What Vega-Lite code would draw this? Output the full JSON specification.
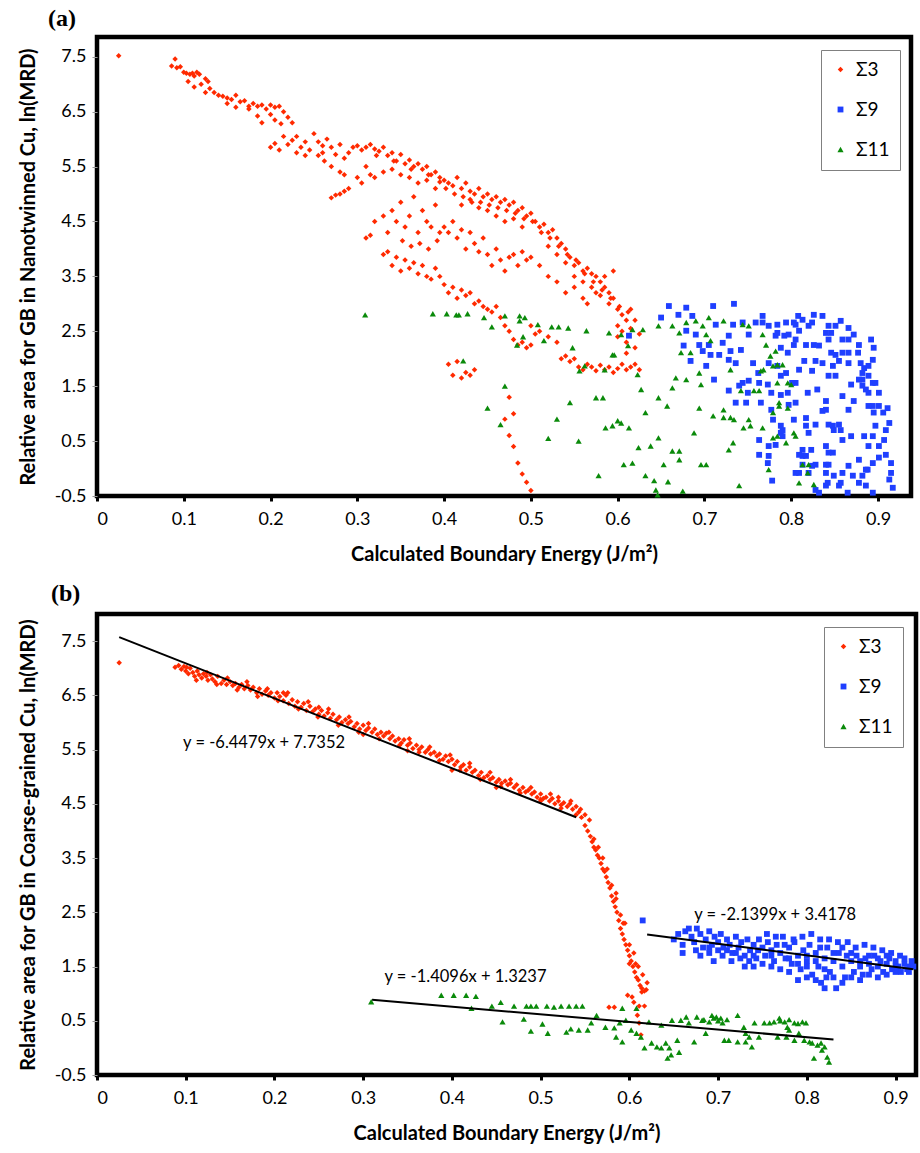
{
"$schema": "https://vega.github.io/schema/vega-lite/v6.json",
"padding": {"left": 15, "top": 4, "right": 2, "bottom": 2},
"spacing": 12,
"datasets": {
"a": [
{"e":0.025,"v":7.52,"s":"Σ3"},{"e":0.086,"v":7.33,"s":"Σ3"},{"e":0.09,"v":7.46,"s":"Σ3"},{"e":0.092,"v":7.3,"s":"Σ3"},{"e":0.096,"v":7.32,"s":"Σ3"},{"e":0.1,"v":7.22,"s":"Σ3"},{"e":0.103,"v":7.2,"s":"Σ3"},{"e":0.107,"v":7.18,"s":"Σ3"},{"e":0.11,"v":7.2,"s":"Σ3"},{"e":0.112,"v":7.15,"s":"Σ3"},{"e":0.115,"v":7.22,"s":"Σ3"},{"e":0.118,"v":7.18,"s":"Σ3"},{"e":0.105,"v":7.05,"s":"Σ3"},{"e":0.112,"v":6.95,"s":"Σ3"},{"e":0.12,"v":7.0,"s":"Σ3"},{"e":0.125,"v":7.1,"s":"Σ3"},{"e":0.128,"v":7.05,"s":"Σ3"},{"e":0.13,"v":6.92,"s":"Σ3"},{"e":0.125,"v":6.85,"s":"Σ3"},{"e":0.135,"v":6.85,"s":"Σ3"},{"e":0.14,"v":6.8,"s":"Σ3"},{"e":0.145,"v":6.78,"s":"Σ3"},{"e":0.15,"v":6.75,"s":"Σ3"},{"e":0.155,"v":6.72,"s":"Σ3"},{"e":0.16,"v":6.8,"s":"Σ3"},{"e":0.165,"v":6.68,"s":"Σ3"},{"e":0.17,"v":6.7,"s":"Σ3"},{"e":0.175,"v":6.6,"s":"Σ3"},{"e":0.18,"v":6.65,"s":"Σ3"},{"e":0.185,"v":6.6,"s":"Σ3"},{"e":0.19,"v":6.62,"s":"Σ3"},{"e":0.195,"v":6.55,"s":"Σ3"},{"e":0.2,"v":6.62,"s":"Σ3"},{"e":0.205,"v":6.58,"s":"Σ3"},{"e":0.21,"v":6.6,"s":"Σ3"},{"e":0.215,"v":6.5,"s":"Σ3"},{"e":0.2,"v":6.45,"s":"Σ3"},{"e":0.19,"v":6.3,"s":"Σ3"},{"e":0.185,"v":6.42,"s":"Σ3"},{"e":0.205,"v":6.35,"s":"Σ3"},{"e":0.212,"v":6.28,"s":"Σ3"},{"e":0.22,"v":6.4,"s":"Σ3"},{"e":0.225,"v":6.3,"s":"Σ3"},{"e":0.175,"v":6.55,"s":"Σ3"},{"e":0.15,"v":6.65,"s":"Σ3"},{"e":0.16,"v":6.58,"s":"Σ3"},
{"e":0.2,"v":5.85,"s":"Σ3"},{"e":0.205,"v":5.92,"s":"Σ3"},{"e":0.21,"v":5.8,"s":"Σ3"},{"e":0.215,"v":6.05,"s":"Σ3"},{"e":0.22,"v":5.9,"s":"Σ3"},{"e":0.225,"v":5.98,"s":"Σ3"},{"e":0.23,"v":6.05,"s":"Σ3"},{"e":0.235,"v":5.85,"s":"Σ3"},{"e":0.24,"v":5.95,"s":"Σ3"},{"e":0.245,"v":5.8,"s":"Σ3"},{"e":0.25,"v":6.1,"s":"Σ3"},{"e":0.255,"v":5.95,"s":"Σ3"},{"e":0.26,"v":5.88,"s":"Σ3"},{"e":0.265,"v":6.0,"s":"Σ3"},{"e":0.27,"v":5.85,"s":"Σ3"},{"e":0.275,"v":5.72,"s":"Σ3"},{"e":0.28,"v":5.9,"s":"Σ3"},{"e":0.285,"v":5.65,"s":"Σ3"},{"e":0.29,"v":5.75,"s":"Σ3"},{"e":0.295,"v":5.85,"s":"Σ3"},{"e":0.255,"v":5.7,"s":"Σ3"},{"e":0.262,"v":5.6,"s":"Σ3"},{"e":0.27,"v":5.5,"s":"Σ3"},{"e":0.28,"v":5.4,"s":"Σ3"},{"e":0.285,"v":5.35,"s":"Σ3"},{"e":0.26,"v":5.75,"s":"Σ3"},{"e":0.24,"v":5.7,"s":"Σ3"},{"e":0.23,"v":5.75,"s":"Σ3"},{"e":0.275,"v":4.98,"s":"Σ3"},{"e":0.28,"v":5.0,"s":"Σ3"},{"e":0.285,"v":5.05,"s":"Σ3"},{"e":0.29,"v":5.1,"s":"Σ3"},{"e":0.27,"v":4.93,"s":"Σ3"},
{"e":0.3,"v":5.88,"s":"Σ3"},{"e":0.305,"v":5.8,"s":"Σ3"},{"e":0.31,"v":5.85,"s":"Σ3"},{"e":0.315,"v":5.9,"s":"Σ3"},{"e":0.32,"v":5.82,"s":"Σ3"},{"e":0.325,"v":5.78,"s":"Σ3"},{"e":0.33,"v":5.85,"s":"Σ3"},{"e":0.335,"v":5.7,"s":"Σ3"},{"e":0.34,"v":5.75,"s":"Σ3"},{"e":0.345,"v":5.6,"s":"Σ3"},{"e":0.35,"v":5.72,"s":"Σ3"},{"e":0.355,"v":5.55,"s":"Σ3"},{"e":0.36,"v":5.62,"s":"Σ3"},{"e":0.365,"v":5.5,"s":"Σ3"},{"e":0.37,"v":5.55,"s":"Σ3"},{"e":0.375,"v":5.45,"s":"Σ3"},{"e":0.38,"v":5.5,"s":"Σ3"},{"e":0.385,"v":5.35,"s":"Σ3"},{"e":0.39,"v":5.4,"s":"Σ3"},{"e":0.395,"v":5.3,"s":"Σ3"},{"e":0.31,"v":5.5,"s":"Σ3"},{"e":0.315,"v":5.35,"s":"Σ3"},{"e":0.32,"v":5.3,"s":"Σ3"},{"e":0.33,"v":5.4,"s":"Σ3"},{"e":0.34,"v":5.45,"s":"Σ3"},{"e":0.35,"v":5.35,"s":"Σ3"},{"e":0.36,"v":5.3,"s":"Σ3"},{"e":0.37,"v":5.2,"s":"Σ3"},{"e":0.38,"v":5.25,"s":"Σ3"},{"e":0.39,"v":5.1,"s":"Σ3"},{"e":0.395,"v":5.22,"s":"Σ3"},{"e":0.3,"v":5.3,"s":"Σ3"},{"e":0.305,"v":5.2,"s":"Σ3"},{"e":0.322,"v":5.7,"s":"Σ3"},{"e":0.342,"v":5.6,"s":"Σ3"},{"e":0.362,"v":5.45,"s":"Σ3"},{"e":0.382,"v":5.35,"s":"Σ3"},
{"e":0.31,"v":4.2,"s":"Σ3"},{"e":0.315,"v":4.25,"s":"Σ3"},{"e":0.32,"v":4.5,"s":"Σ3"},{"e":0.33,"v":4.6,"s":"Σ3"},{"e":0.335,"v":4.3,"s":"Σ3"},{"e":0.34,"v":4.7,"s":"Σ3"},{"e":0.345,"v":4.5,"s":"Σ3"},{"e":0.35,"v":4.85,"s":"Σ3"},{"e":0.355,"v":4.4,"s":"Σ3"},{"e":0.36,"v":4.6,"s":"Σ3"},{"e":0.365,"v":4.95,"s":"Σ3"},{"e":0.37,"v":4.3,"s":"Σ3"},{"e":0.375,"v":4.7,"s":"Σ3"},{"e":0.38,"v":4.5,"s":"Σ3"},{"e":0.385,"v":4.4,"s":"Σ3"},{"e":0.39,"v":4.8,"s":"Σ3"},{"e":0.395,"v":4.3,"s":"Σ3"},{"e":0.352,"v":4.15,"s":"Σ3"},{"e":0.362,"v":4.05,"s":"Σ3"},{"e":0.372,"v":4.1,"s":"Σ3"},{"e":0.382,"v":4.0,"s":"Σ3"},{"e":0.392,"v":4.15,"s":"Σ3"},
{"e":0.33,"v":3.9,"s":"Σ3"},{"e":0.335,"v":3.95,"s":"Σ3"},{"e":0.34,"v":3.7,"s":"Σ3"},{"e":0.345,"v":3.85,"s":"Σ3"},{"e":0.35,"v":3.6,"s":"Σ3"},{"e":0.355,"v":3.8,"s":"Σ3"},{"e":0.36,"v":3.65,"s":"Σ3"},{"e":0.365,"v":3.75,"s":"Σ3"},{"e":0.37,"v":3.55,"s":"Σ3"},{"e":0.375,"v":3.7,"s":"Σ3"},{"e":0.38,"v":3.5,"s":"Σ3"},{"e":0.385,"v":3.45,"s":"Σ3"},{"e":0.39,"v":3.65,"s":"Σ3"},{"e":0.395,"v":3.5,"s":"Σ3"},
{"e":0.4,"v":5.25,"s":"Σ3"},{"e":0.405,"v":5.2,"s":"Σ3"},{"e":0.41,"v":5.15,"s":"Σ3"},{"e":0.415,"v":5.3,"s":"Σ3"},{"e":0.42,"v":5.1,"s":"Σ3"},{"e":0.425,"v":5.2,"s":"Σ3"},{"e":0.43,"v":5.05,"s":"Σ3"},{"e":0.435,"v":5.0,"s":"Σ3"},{"e":0.44,"v":5.1,"s":"Σ3"},{"e":0.445,"v":4.95,"s":"Σ3"},{"e":0.45,"v":5.0,"s":"Σ3"},{"e":0.455,"v":4.9,"s":"Σ3"},{"e":0.46,"v":4.95,"s":"Σ3"},{"e":0.465,"v":4.85,"s":"Σ3"},{"e":0.47,"v":4.9,"s":"Σ3"},{"e":0.475,"v":4.8,"s":"Σ3"},{"e":0.48,"v":4.85,"s":"Σ3"},{"e":0.485,"v":4.7,"s":"Σ3"},{"e":0.49,"v":4.75,"s":"Σ3"},{"e":0.495,"v":4.6,"s":"Σ3"},{"e":0.5,"v":4.65,"s":"Σ3"},{"e":0.42,"v":4.8,"s":"Σ3"},{"e":0.43,"v":4.9,"s":"Σ3"},{"e":0.44,"v":4.75,"s":"Σ3"},{"e":0.45,"v":4.7,"s":"Σ3"},{"e":0.46,"v":4.6,"s":"Σ3"},{"e":0.47,"v":4.5,"s":"Σ3"},{"e":0.48,"v":4.55,"s":"Σ3"},{"e":0.49,"v":4.4,"s":"Σ3"},{"e":0.402,"v":5.1,"s":"Σ3"},{"e":0.412,"v":5.0,"s":"Σ3"},{"e":0.422,"v":4.95,"s":"Σ3"},{"e":0.432,"v":4.85,"s":"Σ3"},{"e":0.442,"v":4.85,"s":"Σ3"},{"e":0.452,"v":4.8,"s":"Σ3"},{"e":0.462,"v":4.75,"s":"Σ3"},{"e":0.472,"v":4.7,"s":"Σ3"},{"e":0.482,"v":4.65,"s":"Σ3"},{"e":0.492,"v":4.55,"s":"Σ3"},{"e":0.502,"v":4.5,"s":"Σ3"},
{"e":0.4,"v":4.4,"s":"Σ3"},{"e":0.405,"v":4.3,"s":"Σ3"},{"e":0.41,"v":4.5,"s":"Σ3"},{"e":0.415,"v":4.2,"s":"Σ3"},{"e":0.42,"v":4.35,"s":"Σ3"},{"e":0.425,"v":4.0,"s":"Σ3"},{"e":0.43,"v":4.3,"s":"Σ3"},{"e":0.435,"v":4.1,"s":"Σ3"},{"e":0.44,"v":3.95,"s":"Σ3"},{"e":0.445,"v":4.2,"s":"Σ3"},{"e":0.45,"v":3.9,"s":"Σ3"},{"e":0.455,"v":3.7,"s":"Σ3"},{"e":0.46,"v":4.0,"s":"Σ3"},{"e":0.465,"v":3.8,"s":"Σ3"},{"e":0.47,"v":3.6,"s":"Σ3"},{"e":0.475,"v":3.85,"s":"Σ3"},{"e":0.48,"v":3.9,"s":"Σ3"},{"e":0.485,"v":3.7,"s":"Σ3"},{"e":0.49,"v":3.95,"s":"Σ3"},{"e":0.495,"v":3.8,"s":"Σ3"},{"e":0.5,"v":3.85,"s":"Σ3"},
{"e":0.4,"v":3.35,"s":"Σ3"},{"e":0.405,"v":3.2,"s":"Σ3"},{"e":0.41,"v":3.3,"s":"Σ3"},{"e":0.415,"v":3.1,"s":"Σ3"},{"e":0.42,"v":3.25,"s":"Σ3"},{"e":0.425,"v":3.15,"s":"Σ3"},{"e":0.43,"v":3.2,"s":"Σ3"},{"e":0.435,"v":3.0,"s":"Σ3"},{"e":0.44,"v":3.05,"s":"Σ3"},{"e":0.445,"v":2.95,"s":"Σ3"},{"e":0.45,"v":2.9,"s":"Σ3"},{"e":0.455,"v":2.85,"s":"Σ3"},{"e":0.46,"v":2.95,"s":"Σ3"},{"e":0.465,"v":2.75,"s":"Σ3"},{"e":0.47,"v":2.6,"s":"Σ3"},{"e":0.475,"v":2.5,"s":"Σ3"},{"e":0.48,"v":2.35,"s":"Σ3"},{"e":0.485,"v":2.25,"s":"Σ3"},{"e":0.49,"v":2.3,"s":"Σ3"},{"e":0.495,"v":2.2,"s":"Σ3"},{"e":0.5,"v":2.25,"s":"Σ3"},
{"e":0.405,"v":1.9,"s":"Σ3"},{"e":0.41,"v":1.7,"s":"Σ3"},{"e":0.415,"v":1.95,"s":"Σ3"},{"e":0.42,"v":1.65,"s":"Σ3"},{"e":0.425,"v":1.75,"s":"Σ3"},{"e":0.43,"v":1.7,"s":"Σ3"},{"e":0.435,"v":1.8,"s":"Σ3"},
{"e":0.47,"v":0.9,"s":"Σ3"},{"e":0.475,"v":0.6,"s":"Σ3"},{"e":0.48,"v":0.4,"s":"Σ3"},{"e":0.485,"v":0.1,"s":"Σ3"},{"e":0.49,"v":-0.1,"s":"Σ3"},{"e":0.495,"v":-0.25,"s":"Σ3"},{"e":0.5,"v":-0.4,"s":"Σ3"},{"e":0.475,"v":1.3,"s":"Σ3"},{"e":0.48,"v":1.0,"s":"Σ3"},
{"e":0.505,"v":4.5,"s":"Σ3"},{"e":0.51,"v":4.4,"s":"Σ3"},{"e":0.515,"v":4.45,"s":"Σ3"},{"e":0.52,"v":4.3,"s":"Σ3"},{"e":0.525,"v":4.35,"s":"Σ3"},{"e":0.53,"v":4.2,"s":"Σ3"},{"e":0.535,"v":4.1,"s":"Σ3"},{"e":0.54,"v":4.0,"s":"Σ3"},{"e":0.545,"v":3.85,"s":"Σ3"},{"e":0.55,"v":3.7,"s":"Σ3"},{"e":0.555,"v":3.75,"s":"Σ3"},{"e":0.56,"v":3.6,"s":"Σ3"},{"e":0.565,"v":3.65,"s":"Σ3"},{"e":0.57,"v":3.55,"s":"Σ3"},{"e":0.575,"v":3.5,"s":"Σ3"},{"e":0.58,"v":3.4,"s":"Σ3"},{"e":0.585,"v":3.3,"s":"Σ3"},{"e":0.59,"v":3.2,"s":"Σ3"},{"e":0.595,"v":3.1,"s":"Σ3"},{"e":0.6,"v":2.9,"s":"Σ3"},{"e":0.605,"v":2.8,"s":"Σ3"},{"e":0.61,"v":2.7,"s":"Σ3"},{"e":0.52,"v":4.05,"s":"Σ3"},{"e":0.53,"v":3.9,"s":"Σ3"},{"e":0.54,"v":3.75,"s":"Σ3"},{"e":0.55,"v":3.5,"s":"Σ3"},{"e":0.56,"v":3.4,"s":"Σ3"},{"e":0.57,"v":3.3,"s":"Σ3"},{"e":0.58,"v":3.15,"s":"Σ3"},{"e":0.59,"v":3.0,"s":"Σ3"},{"e":0.6,"v":2.6,"s":"Σ3"},{"e":0.51,"v":3.7,"s":"Σ3"},{"e":0.52,"v":3.5,"s":"Σ3"},{"e":0.53,"v":3.4,"s":"Σ3"},{"e":0.54,"v":3.2,"s":"Σ3"},{"e":0.55,"v":3.3,"s":"Σ3"},{"e":0.56,"v":3.1,"s":"Σ3"},{"e":0.565,"v":3.0,"s":"Σ3"},{"e":0.575,"v":3.2,"s":"Σ3"},{"e":0.585,"v":3.5,"s":"Σ3"},{"e":0.595,"v":3.6,"s":"Σ3"},{"e":0.512,"v":4.3,"s":"Σ3"},{"e":0.522,"v":4.2,"s":"Σ3"},{"e":0.532,"v":4.05,"s":"Σ3"},{"e":0.542,"v":3.9,"s":"Σ3"},{"e":0.552,"v":3.8,"s":"Σ3"},{"e":0.562,"v":3.55,"s":"Σ3"},{"e":0.572,"v":3.4,"s":"Σ3"},{"e":0.582,"v":3.25,"s":"Σ3"},{"e":0.592,"v":3.1,"s":"Σ3"},{"e":0.602,"v":2.95,"s":"Σ3"},{"e":0.612,"v":2.85,"s":"Σ3"},
{"e":0.51,"v":2.5,"s":"Σ3"},{"e":0.52,"v":2.4,"s":"Σ3"},{"e":0.53,"v":2.3,"s":"Σ3"},{"e":0.535,"v":2.0,"s":"Σ3"},{"e":0.54,"v":2.05,"s":"Σ3"},{"e":0.545,"v":1.95,"s":"Σ3"},{"e":0.55,"v":2.0,"s":"Σ3"},{"e":0.5,"v":2.6,"s":"Σ3"},{"e":0.505,"v":2.45,"s":"Σ3"},
{"e":0.555,"v":1.85,"s":"Σ3"},{"e":0.56,"v":1.8,"s":"Σ3"},{"e":0.565,"v":1.9,"s":"Σ3"},{"e":0.57,"v":1.85,"s":"Σ3"},{"e":0.575,"v":1.78,"s":"Σ3"},{"e":0.58,"v":1.88,"s":"Σ3"},{"e":0.585,"v":1.8,"s":"Σ3"},{"e":0.59,"v":1.85,"s":"Σ3"},{"e":0.595,"v":1.75,"s":"Σ3"},{"e":0.6,"v":1.82,"s":"Σ3"},{"e":0.605,"v":1.9,"s":"Σ3"},{"e":0.61,"v":1.8,"s":"Σ3"},{"e":0.615,"v":1.85,"s":"Σ3"},{"e":0.62,"v":1.9,"s":"Σ3"},{"e":0.625,"v":1.8,"s":"Σ3"},
{"e":0.6,"v":2.4,"s":"Σ3"},{"e":0.605,"v":2.5,"s":"Σ3"},{"e":0.61,"v":2.3,"s":"Σ3"},{"e":0.615,"v":2.55,"s":"Σ3"},{"e":0.62,"v":2.2,"s":"Σ3"},{"e":0.625,"v":2.45,"s":"Σ3"},{"e":0.615,"v":2.9,"s":"Σ3"},{"e":0.62,"v":2.7,"s":"Σ3"},{"e":0.61,"v":2.1,"s":"Σ3"},
{"e":0.613,"v":2.42,"s":"Σ9"},{"e":0.659,"v":2.96,"s":"Σ9"},{"e":0.65,"v":2.75,"s":"Σ9"},{"e":0.67,"v":2.8,"s":"Σ9"},{"e":0.679,"v":2.93,"s":"Σ9"},{"e":0.686,"v":2.78,"s":"Σ9"},{"e":0.71,"v":2.96,"s":"Σ9"},{"e":0.734,"v":3.0,"s":"Σ9"},{"e":0.679,"v":2.51,"s":"Σ9"},{"e":0.676,"v":2.24,"s":"Σ9"},{"e":0.684,"v":1.96,"s":"Σ9"},{"e":0.694,"v":2.25,"s":"Σ9"},{"e":0.698,"v":2.14,"s":"Σ9"},{"e":0.702,"v":1.87,"s":"Σ9"},{"e":0.711,"v":1.62,"s":"Σ9"},{"e":0.707,"v":2.07,"s":"Σ9"},{"e":0.713,"v":2.62,"s":"Σ9"},{"e":0.721,"v":2.29,"s":"Σ9"},{"e":0.728,"v":2.42,"s":"Σ9"},{"e":0.73,"v":2.14,"s":"Σ9"},{"e":0.733,"v":2.62,"s":"Σ9"},{"e":0.742,"v":2.16,"s":"Σ9"},{"e":0.744,"v":2.66,"s":"Σ9"},{"e":0.751,"v":2.44,"s":"Σ9"},{"e":0.759,"v":2.66,"s":"Σ9"},{"e":0.767,"v":2.78,"s":"Σ9"},{"e":0.756,"v":1.92,"s":"Σ9"},{"e":0.744,"v":1.56,"s":"Σ9"},{"e":0.728,"v":1.42,"s":"Σ9"},{"e":0.736,"v":1.2,"s":"Σ9"},{"e":0.748,"v":1.2,"s":"Σ9"},{"e":0.765,"v":1.2,"s":"Σ9"},{"e":0.773,"v":1.53,"s":"Σ9"},{"e":0.763,"v":1.56,"s":"Σ9"},{"e":0.774,"v":1.92,"s":"Σ9"},{"e":0.763,"v":0.52,"s":"Σ9"},{"e":0.763,"v":0.25,"s":"Σ9"},{"e":0.774,"v":0.41,"s":"Σ9"},{"e":0.782,"v":0.43,"s":"Σ9"},{"e":0.778,"v":-0.22,"s":"Σ9"},{"e":0.79,"v":0.7,"s":"Σ9"},{"e":0.788,"v":0.65,"s":"Σ9"},{"e":0.797,"v":1.16,"s":"Σ9"},{"e":0.805,"v":1.2,"s":"Σ9"},{"e":0.803,"v":0.89,"s":"Σ9"},{"e":0.817,"v":0.92,"s":"Σ9"},{"e":0.817,"v":0.78,"s":"Σ9"},{"e":0.813,"v":0.34,"s":"Σ9"},{"e":0.813,"v":0.23,"s":"Σ9"},{"e":0.809,"v":-0.08,"s":"Σ9"},{"e":0.828,"v":-0.39,"s":"Σ9"},{"e":0.832,"v":-0.44,"s":"Σ9"},{"e":0.84,"v":-0.31,"s":"Σ9"},{"e":0.84,"v":0.07,"s":"Σ9"},{"e":0.843,"v":0.29,"s":"Σ9"},{"e":0.848,"v":0.29,"s":"Σ9"},{"e":0.848,"v":0.78,"s":"Σ9"},{"e":0.843,"v":0.8,"s":"Σ9"},{"e":0.859,"v":0.52,"s":"Σ9"},{"e":0.857,"v":0.7,"s":"Σ9"},{"e":0.869,"v":0.59,"s":"Σ9"},{"e":0.859,"v":-0.08,"s":"Σ9"},{"e":0.871,"v":-0.13,"s":"Σ9"},{"e":0.855,"v":-0.31,"s":"Σ9"},{"e":0.865,"v":-0.44,"s":"Σ9"},{"e":0.878,"v":0.16,"s":"Σ9"},{"e":0.882,"v":-0.13,"s":"Σ9"},{"e":0.886,"v":-0.31,"s":"Σ9"},{"e":0.894,"v":-0.44,"s":"Σ9"},{"e":0.888,"v":-0.02,"s":"Σ9"},{"e":0.901,"v":0.2,"s":"Σ9"},{"e":0.909,"v":0.25,"s":"Σ9"},{"e":0.915,"v":0.1,"s":"Σ9"},{"e":0.915,"v":-0.08,"s":"Σ9"},{"e":0.913,"v":-0.2,"s":"Σ9"},{"e":0.917,"v":-0.35,"s":"Σ9"},{"e":0.901,"v":0.41,"s":"Σ9"},{"e":0.907,"v":0.52,"s":"Σ9"},{"e":0.909,"v":0.7,"s":"Σ9"},{"e":0.913,"v":0.83,"s":"Σ9"},{"e":0.906,"v":1.02,"s":"Σ9"},{"e":0.911,"v":1.1,"s":"Σ9"},{"e":0.901,"v":1.14,"s":"Σ9"},{"e":0.895,"v":1.02,"s":"Σ9"},{"e":0.894,"v":1.14,"s":"Σ9"},{"e":0.889,"v":1.14,"s":"Σ9"},{"e":0.901,"v":1.38,"s":"Σ9"},{"e":0.894,"v":1.56,"s":"Σ9"},{"e":0.897,"v":1.56,"s":"Σ9"},{"e":0.889,"v":1.69,"s":"Σ9"},{"e":0.882,"v":1.74,"s":"Σ9"},{"e":0.882,"v":1.62,"s":"Σ9"},{"e":0.882,"v":1.51,"s":"Σ9"},{"e":0.886,"v":1.44,"s":"Σ9"},{"e":0.889,"v":1.38,"s":"Σ9"},{"e":0.88,"v":1.92,"s":"Σ9"},{"e":0.884,"v":1.83,"s":"Σ9"},{"e":0.889,"v":1.87,"s":"Σ9"},{"e":0.894,"v":1.98,"s":"Σ9"},{"e":0.892,"v":2.35,"s":"Σ9"},{"e":0.895,"v":2.2,"s":"Σ9"},{"e":0.878,"v":2.25,"s":"Σ9"},{"e":0.877,"v":2.11,"s":"Σ9"},{"e":0.866,"v":2.11,"s":"Σ9"},{"e":0.859,"v":2.11,"s":"Σ9"},{"e":0.872,"v":2.44,"s":"Σ9"},{"e":0.866,"v":2.56,"s":"Σ9"},{"e":0.857,"v":2.69,"s":"Σ9"},{"e":0.851,"v":2.6,"s":"Σ9"},{"e":0.846,"v":2.47,"s":"Σ9"},{"e":0.84,"v":2.47,"s":"Σ9"},{"e":0.836,"v":2.78,"s":"Σ9"},{"e":0.826,"v":2.8,"s":"Σ9"},{"e":0.824,"v":2.66,"s":"Σ9"},{"e":0.82,"v":2.6,"s":"Σ9"},{"e":0.808,"v":2.78,"s":"Σ9"},{"e":0.803,"v":2.66,"s":"Σ9"},{"e":0.809,"v":2.51,"s":"Σ9"},{"e":0.805,"v":2.35,"s":"Σ9"},{"e":0.817,"v":2.25,"s":"Σ9"},{"e":0.826,"v":2.25,"s":"Σ9"},{"e":0.832,"v":2.24,"s":"Σ9"},{"e":0.846,"v":2.11,"s":"Σ9"},{"e":0.851,"v":2.07,"s":"Σ9"},{"e":0.855,"v":1.96,"s":"Σ9"},{"e":0.848,"v":1.87,"s":"Σ9"},{"e":0.836,"v":1.92,"s":"Σ9"},{"e":0.828,"v":1.96,"s":"Σ9"},{"e":0.815,"v":1.96,"s":"Σ9"},{"e":0.809,"v":1.8,"s":"Σ9"},{"e":0.824,"v":1.78,"s":"Σ9"},{"e":0.843,"v":1.69,"s":"Σ9"},{"e":0.851,"v":1.69,"s":"Σ9"},{"e":0.869,"v":1.53,"s":"Σ9"},{"e":0.872,"v":1.23,"s":"Σ9"},{"e":0.859,"v":1.32,"s":"Σ9"},{"e":0.84,"v":1.23,"s":"Σ9"},{"e":0.83,"v":1.44,"s":"Σ9"},{"e":0.819,"v":1.38,"s":"Σ9"},{"e":0.836,"v":1.05,"s":"Σ9"},{"e":0.84,"v":1.07,"s":"Σ9"},{"e":0.866,"v":1.07,"s":"Σ9"},{"e":0.855,"v":0.8,"s":"Σ9"},{"e":0.849,"v":0.7,"s":"Σ9"},{"e":0.828,"v":0.8,"s":"Σ9"},{"e":0.82,"v":0.65,"s":"Σ9"},{"e":0.84,"v":0.41,"s":"Σ9"},{"e":0.823,"v":0.34,"s":"Σ9"},{"e":0.817,"v":0.23,"s":"Σ9"},{"e":0.828,"v":0.07,"s":"Σ9"},{"e":0.84,"v":-0.08,"s":"Σ9"},{"e":0.849,"v":-0.13,"s":"Σ9"},{"e":0.843,"v":0.07,"s":"Σ9"},{"e":0.886,"v":-0.02,"s":"Σ9"},{"e":0.894,"v":0.1,"s":"Σ9"},{"e":0.894,"v":0.59,"s":"Σ9"},{"e":0.884,"v":0.59,"s":"Σ9"},{"e":0.889,"v":0.41,"s":"Σ9"},{"e":0.897,"v":0.78,"s":"Σ9"},{"e":0.782,"v":2.42,"s":"Σ9"},{"e":0.784,"v":2.62,"s":"Σ9"},{"e":0.792,"v":2.42,"s":"Σ9"},{"e":0.797,"v":2.44,"s":"Σ9"},{"e":0.788,"v":2.2,"s":"Σ9"},{"e":0.796,"v":2.11,"s":"Σ9"},{"e":0.803,"v":2.25,"s":"Σ9"},{"e":0.794,"v":1.74,"s":"Σ9"},{"e":0.788,"v":1.69,"s":"Σ9"},{"e":0.784,"v":1.87,"s":"Σ9"},{"e":0.801,"v":1.56,"s":"Σ9"},{"e":0.805,"v":1.56,"s":"Σ9"},{"e":0.796,"v":1.38,"s":"Σ9"},{"e":0.788,"v":1.34,"s":"Σ9"},{"e":0.777,"v":1.38,"s":"Σ9"},{"e":0.751,"v":1.6,"s":"Σ9"},{"e":0.762,"v":1.74,"s":"Σ9"},{"e":0.74,"v":1.51,"s":"Σ9"},{"e":0.75,"v":1.38,"s":"Σ9"},{"e":0.777,"v":1.07,"s":"Σ9"},{"e":0.779,"v":0.89,"s":"Σ9"},{"e":0.788,"v":0.78,"s":"Σ9"},{"e":0.79,"v":0.59,"s":"Σ9"},{"e":0.774,"v":0.23,"s":"Σ9"},{"e":0.773,"v":0.1,"s":"Σ9"},{"e":0.809,"v":0.25,"s":"Σ9"},{"e":0.813,"v":0.07,"s":"Σ9"},{"e":0.805,"v":-0.08,"s":"Σ9"},{"e":0.82,"v":-0.08,"s":"Σ9"},{"e":0.824,"v":0.05,"s":"Σ9"},{"e":0.857,"v":-0.26,"s":"Σ9"},{"e":0.842,"v":-0.26,"s":"Σ9"},{"e":0.878,"v":-0.26,"s":"Σ9"},{"e":0.866,"v":0.05,"s":"Σ9"},{"e":0.728,"v":1.98,"s":"Σ9"},{"e":0.736,"v":1.92,"s":"Σ9"},{"e":0.717,"v":2.07,"s":"Σ9"},{"e":0.705,"v":2.25,"s":"Σ9"},{"e":0.69,"v":2.44,"s":"Σ9"},{"e":0.767,"v":2.66,"s":"Σ9"},{"e":0.774,"v":2.6,"s":"Σ9"},{"e":0.784,"v":2.47,"s":"Σ9"},{"e":0.794,"v":2.66,"s":"Σ9"},{"e":0.805,"v":2.62,"s":"Σ9"},{"e":0.813,"v":2.71,"s":"Σ9"},{"e":0.843,"v":2.6,"s":"Σ9"},{"e":0.843,"v":2.35,"s":"Σ9"},{"e":0.859,"v":2.35,"s":"Σ9"},{"e":0.866,"v":2.35,"s":"Σ9"},{"e":0.866,"v":1.92,"s":"Σ9"},{"e":0.878,"v":1.62,"s":"Σ9"},
{"e":0.309,"v":2.8,"s":"Σ11"},{"e":0.387,"v":2.82,"s":"Σ11"},{"e":0.403,"v":2.82,"s":"Σ11"},{"e":0.414,"v":2.8,"s":"Σ11"},{"e":0.417,"v":2.8,"s":"Σ11"},{"e":0.427,"v":2.82,"s":"Σ11"},{"e":0.446,"v":2.75,"s":"Σ11"},{"e":0.455,"v":2.58,"s":"Σ11"},{"e":0.47,"v":2.78,"s":"Σ11"},{"e":0.487,"v":2.78,"s":"Σ11"},{"e":0.493,"v":2.75,"s":"Σ11"},{"e":0.487,"v":2.69,"s":"Σ11"},{"e":0.508,"v":2.62,"s":"Σ11"},{"e":0.524,"v":2.58,"s":"Σ11"},{"e":0.532,"v":2.58,"s":"Σ11"},{"e":0.543,"v":2.56,"s":"Σ11"},{"e":0.564,"v":2.51,"s":"Σ11"},{"e":0.59,"v":2.47,"s":"Σ11"},{"e":0.491,"v":2.4,"s":"Σ11"},{"e":0.484,"v":2.25,"s":"Σ11"},{"e":0.515,"v":2.33,"s":"Σ11"},{"e":0.548,"v":2.2,"s":"Σ11"},{"e":0.594,"v":2.07,"s":"Σ11"},{"e":0.422,"v":1.96,"s":"Σ11"},{"e":0.562,"v":1.87,"s":"Σ11"},{"e":0.556,"v":1.78,"s":"Σ11"},
{"e":0.604,"v":2.44,"s":"Σ11"},{"e":0.617,"v":2.53,"s":"Σ11"},{"e":0.629,"v":2.53,"s":"Σ11"},{"e":0.647,"v":2.6,"s":"Σ11"},{"e":0.663,"v":2.6,"s":"Σ11"},{"e":0.671,"v":2.47,"s":"Σ11"},{"e":0.679,"v":2.66,"s":"Σ11"},{"e":0.69,"v":2.69,"s":"Σ11"},{"e":0.698,"v":2.6,"s":"Σ11"},{"e":0.705,"v":2.75,"s":"Σ11"},{"e":0.702,"v":2.44,"s":"Σ11"},{"e":0.707,"v":2.33,"s":"Σ11"},{"e":0.722,"v":2.69,"s":"Σ11"},{"e":0.744,"v":2.62,"s":"Σ11"},{"e":0.751,"v":2.6,"s":"Σ11"},{"e":0.767,"v":2.44,"s":"Σ11"},{"e":0.771,"v":2.25,"s":"Σ11"},{"e":0.782,"v":2.14,"s":"Σ11"},{"e":0.776,"v":2.05,"s":"Σ11"},{"e":0.784,"v":1.89,"s":"Σ11"},{"e":0.779,"v":1.87,"s":"Σ11"},{"e":0.765,"v":1.78,"s":"Σ11"},{"e":0.768,"v":1.8,"s":"Σ11"},{"e":0.79,"v":1.89,"s":"Σ11"},{"e":0.786,"v":1.2,"s":"Σ11"},{"e":0.796,"v":1.56,"s":"Σ11"},{"e":0.8,"v":1.53,"s":"Σ11"},{"e":0.784,"v":1.56,"s":"Σ11"},{"e":0.673,"v":2.11,"s":"Σ11"},{"e":0.684,"v":2.11,"s":"Σ11"},{"e":0.73,"v":1.8,"s":"Σ11"},{"e":0.742,"v":1.42,"s":"Σ11"},{"e":0.757,"v":1.42,"s":"Σ11"},{"e":0.763,"v":1.42,"s":"Σ11"},{"e":0.786,"v":1.14,"s":"Σ11"},{"e":0.796,"v":1.1,"s":"Σ11"},{"e":0.779,"v":1.02,"s":"Σ11"},{"e":0.623,"v":1.71,"s":"Σ11"},{"e":0.667,"v":1.65,"s":"Σ11"},{"e":0.679,"v":1.62,"s":"Σ11"},{"e":0.694,"v":1.74,"s":"Σ11"},{"e":0.696,"v":1.53,"s":"Σ11"},{"e":0.663,"v":1.47,"s":"Σ11"},{"e":0.627,"v":1.44,"s":"Σ11"},{"e":0.596,"v":2.07,"s":"Σ11"},{"e":0.612,"v":2.24,"s":"Σ11"},{"e":0.647,"v":1.29,"s":"Σ11"},{"e":0.657,"v":1.14,"s":"Σ11"},{"e":0.632,"v":1.02,"s":"Σ11"},{"e":0.694,"v":1.1,"s":"Σ11"},{"e":0.71,"v":0.96,"s":"Σ11"},{"e":0.722,"v":1.07,"s":"Σ11"},{"e":0.722,"v":0.93,"s":"Σ11"},{"e":0.73,"v":0.93,"s":"Σ11"},{"e":0.734,"v":0.89,"s":"Σ11"},{"e":0.751,"v":0.89,"s":"Σ11"},{"e":0.753,"v":0.78,"s":"Σ11"},{"e":0.745,"v":0.74,"s":"Σ11"},{"e":0.767,"v":0.74,"s":"Σ11"},{"e":0.586,"v":0.74,"s":"Σ11"},{"e":0.594,"v":0.78,"s":"Σ11"},{"e":0.6,"v":0.87,"s":"Σ11"},{"e":0.604,"v":0.83,"s":"Σ11"},{"e":0.613,"v":0.74,"s":"Σ11"},{"e":0.647,"v":0.56,"s":"Σ11"},{"e":0.688,"v":0.65,"s":"Σ11"},{"e":0.624,"v":0.38,"s":"Σ11"},{"e":0.638,"v":0.41,"s":"Σ11"},{"e":0.663,"v":0.32,"s":"Σ11"},{"e":0.671,"v":0.32,"s":"Σ11"},{"e":0.671,"v":0.16,"s":"Σ11"},{"e":0.733,"v":0.47,"s":"Σ11"},{"e":0.728,"v":0.34,"s":"Σ11"},{"e":0.779,"v":0.56,"s":"Σ11"},{"e":0.784,"v":0.59,"s":"Σ11"},{"e":0.794,"v":0.47,"s":"Σ11"},{"e":0.803,"v":0.65,"s":"Σ11"},{"e":0.805,"v":0.59,"s":"Σ11"},{"e":0.607,"v":0.07,"s":"Σ11"},{"e":0.617,"v":0.1,"s":"Σ11"},{"e":0.653,"v":0.07,"s":"Σ11"},{"e":0.696,"v":0.07,"s":"Σ11"},{"e":0.702,"v":0.07,"s":"Σ11"},{"e":0.774,"v":-0.02,"s":"Σ11"},{"e":0.813,"v":0.07,"s":"Σ11"},{"e":0.82,"v":0.07,"s":"Σ11"},{"e":0.819,"v":-0.08,"s":"Σ11"},{"e":0.809,"v":-0.26,"s":"Σ11"},{"e":0.826,"v":-0.29,"s":"Σ11"},{"e":0.632,"v":-0.13,"s":"Σ11"},{"e":0.642,"v":-0.22,"s":"Σ11"},{"e":0.644,"v":-0.39,"s":"Σ11"},{"e":0.646,"v":-0.48,"s":"Σ11"},{"e":0.658,"v":-0.24,"s":"Σ11"},{"e":0.675,"v":-0.41,"s":"Σ11"},{"e":0.74,"v":-0.31,"s":"Σ11"},{"e":0.578,"v":-0.13,"s":"Σ11"},{"e":0.575,"v":1.29,"s":"Σ11"},{"e":0.583,"v":1.29,"s":"Σ11"},{"e":0.45,"v":1.1,"s":"Σ11"},{"e":0.465,"v":0.8,"s":"Σ11"},{"e":0.47,"v":1.5,"s":"Σ11"},{"e":0.53,"v":0.9,"s":"Σ11"},{"e":0.52,"v":0.55,"s":"Σ11"},{"e":0.555,"v":0.5,"s":"Σ11"},{"e":0.545,"v":1.2,"s":"Σ11"},{"e":0.585,"v":1.8,"s":"Σ11"}
],
"b": [
{"e":0.025,"v":7.1,"s":"Σ3"},{"e":0.088,"v":7.02,"s":"Σ3"},{"e":0.092,"v":7.05,"s":"Σ3"},{"e":0.095,"v":6.98,"s":"Σ3"},{"e":0.098,"v":7.03,"s":"Σ3"},{"e":0.1,"v":6.95,"s":"Σ3"},{"e":0.103,"v":6.9,"s":"Σ3"},{"e":0.105,"v":7.0,"s":"Σ3"},{"e":0.108,"v":6.92,"s":"Σ3"},{"e":0.11,"v":6.85,"s":"Σ3"},{"e":0.113,"v":6.95,"s":"Σ3"},{"e":0.115,"v":6.88,"s":"Σ3"},{"e":0.118,"v":6.82,"s":"Σ3"},{"e":0.12,"v":6.9,"s":"Σ3"},{"e":0.123,"v":6.85,"s":"Σ3"},{"e":0.125,"v":6.78,"s":"Σ3"},{"e":0.128,"v":6.88,"s":"Σ3"},{"e":0.13,"v":6.8,"s":"Σ3"},{"e":0.133,"v":6.75,"s":"Σ3"},{"e":0.136,"v":6.85,"s":"Σ3"},{"e":0.14,"v":6.72,"s":"Σ3"},{"e":0.143,"v":6.78,"s":"Σ3"},{"e":0.146,"v":6.7,"s":"Σ3"},{"e":0.15,"v":6.75,"s":"Σ3"},{"e":0.153,"v":6.68,"s":"Σ3"},{"e":0.156,"v":6.72,"s":"Σ3"},{"e":0.16,"v":6.65,"s":"Σ3"},{"e":0.163,"v":6.7,"s":"Σ3"},{"e":0.166,"v":6.62,"s":"Σ3"},{"e":0.17,"v":6.68,"s":"Σ3"},{"e":0.173,"v":6.6,"s":"Σ3"},{"e":0.176,"v":6.65,"s":"Σ3"},{"e":0.18,"v":6.55,"s":"Σ3"},{"e":0.183,"v":6.62,"s":"Σ3"},{"e":0.186,"v":6.52,"s":"Σ3"},{"e":0.19,"v":6.58,"s":"Σ3"},{"e":0.193,"v":6.5,"s":"Σ3"},{"e":0.196,"v":6.55,"s":"Σ3"},{"e":0.2,"v":6.45,"s":"Σ3"},{"e":0.203,"v":6.55,"s":"Σ3"},{"e":0.206,"v":6.48,"s":"Σ3"},{"e":0.21,"v":6.4,"s":"Σ3"},{"e":0.213,"v":6.5,"s":"Σ3"},{"e":0.216,"v":6.35,"s":"Σ3"},{"e":0.22,"v":6.42,"s":"Σ3"},{"e":0.223,"v":6.3,"s":"Σ3"},{"e":0.226,"v":6.38,"s":"Σ3"},{"e":0.23,"v":6.28,"s":"Σ3"},{"e":0.233,"v":6.35,"s":"Σ3"},{"e":0.236,"v":6.22,"s":"Σ3"},{"e":0.24,"v":6.3,"s":"Σ3"},{"e":0.243,"v":6.2,"s":"Σ3"},{"e":0.246,"v":6.25,"s":"Σ3"},{"e":0.25,"v":6.15,"s":"Σ3"},{"e":0.253,"v":6.22,"s":"Σ3"},{"e":0.256,"v":6.12,"s":"Σ3"},{"e":0.26,"v":6.18,"s":"Σ3"},{"e":0.263,"v":6.08,"s":"Σ3"},{"e":0.266,"v":6.15,"s":"Σ3"},{"e":0.27,"v":6.05,"s":"Σ3"},{"e":0.273,"v":6.1,"s":"Σ3"},{"e":0.276,"v":6.0,"s":"Σ3"},{"e":0.28,"v":6.05,"s":"Σ3"},{"e":0.283,"v":5.98,"s":"Σ3"},{"e":0.286,"v":6.02,"s":"Σ3"},{"e":0.29,"v":5.92,"s":"Σ3"},{"e":0.293,"v":5.98,"s":"Σ3"},{"e":0.296,"v":5.88,"s":"Σ3"},{"e":0.3,"v":5.95,"s":"Σ3"},{"e":0.303,"v":5.85,"s":"Σ3"},{"e":0.306,"v":5.9,"s":"Σ3"},{"e":0.31,"v":5.82,"s":"Σ3"},{"e":0.313,"v":5.88,"s":"Σ3"},{"e":0.316,"v":5.78,"s":"Σ3"},{"e":0.32,"v":5.82,"s":"Σ3"},{"e":0.323,"v":5.75,"s":"Σ3"},{"e":0.326,"v":5.8,"s":"Σ3"},{"e":0.33,"v":5.7,"s":"Σ3"},{"e":0.333,"v":5.75,"s":"Σ3"},{"e":0.336,"v":5.66,"s":"Σ3"},{"e":0.34,"v":5.7,"s":"Σ3"},{"e":0.343,"v":5.62,"s":"Σ3"},{"e":0.346,"v":5.68,"s":"Σ3"},{"e":0.35,"v":5.58,"s":"Σ3"},{"e":0.353,"v":5.62,"s":"Σ3"},{"e":0.356,"v":5.52,"s":"Σ3"},{"e":0.36,"v":5.58,"s":"Σ3"},{"e":0.363,"v":5.5,"s":"Σ3"},{"e":0.366,"v":5.55,"s":"Σ3"},{"e":0.37,"v":5.45,"s":"Σ3"},{"e":0.373,"v":5.5,"s":"Σ3"},{"e":0.376,"v":5.42,"s":"Σ3"},{"e":0.38,"v":5.45,"s":"Σ3"},{"e":0.383,"v":5.38,"s":"Σ3"},{"e":0.386,"v":5.42,"s":"Σ3"},{"e":0.39,"v":5.32,"s":"Σ3"},{"e":0.393,"v":5.38,"s":"Σ3"},{"e":0.396,"v":5.28,"s":"Σ3"},{"e":0.4,"v":5.32,"s":"Σ3"},{"e":0.403,"v":5.22,"s":"Σ3"},{"e":0.406,"v":5.28,"s":"Σ3"},{"e":0.41,"v":5.18,"s":"Σ3"},{"e":0.413,"v":5.22,"s":"Σ3"},{"e":0.416,"v":5.12,"s":"Σ3"},{"e":0.42,"v":5.18,"s":"Σ3"},{"e":0.423,"v":5.08,"s":"Σ3"},{"e":0.426,"v":5.12,"s":"Σ3"},{"e":0.43,"v":5.02,"s":"Σ3"},{"e":0.433,"v":5.08,"s":"Σ3"},{"e":0.436,"v":4.98,"s":"Σ3"},{"e":0.44,"v":5.02,"s":"Σ3"},{"e":0.443,"v":4.95,"s":"Σ3"},{"e":0.446,"v":4.98,"s":"Σ3"},{"e":0.45,"v":4.9,"s":"Σ3"},{"e":0.453,"v":4.95,"s":"Σ3"},{"e":0.456,"v":4.88,"s":"Σ3"},{"e":0.46,"v":4.92,"s":"Σ3"},{"e":0.463,"v":4.85,"s":"Σ3"},{"e":0.466,"v":4.88,"s":"Σ3"},{"e":0.47,"v":4.8,"s":"Σ3"},{"e":0.473,"v":4.85,"s":"Σ3"},{"e":0.476,"v":4.75,"s":"Σ3"},{"e":0.48,"v":4.8,"s":"Σ3"},{"e":0.483,"v":4.72,"s":"Σ3"},{"e":0.486,"v":4.75,"s":"Σ3"},{"e":0.49,"v":4.68,"s":"Σ3"},{"e":0.493,"v":4.72,"s":"Σ3"},{"e":0.496,"v":4.62,"s":"Σ3"},{"e":0.5,"v":4.68,"s":"Σ3"},{"e":0.503,"v":4.6,"s":"Σ3"},{"e":0.506,"v":4.62,"s":"Σ3"},{"e":0.51,"v":4.55,"s":"Σ3"},{"e":0.513,"v":4.6,"s":"Σ3"},{"e":0.516,"v":4.5,"s":"Σ3"},{"e":0.52,"v":4.55,"s":"Σ3"},{"e":0.523,"v":4.48,"s":"Σ3"},{"e":0.526,"v":4.52,"s":"Σ3"},{"e":0.53,"v":4.45,"s":"Σ3"},{"e":0.533,"v":4.5,"s":"Σ3"},{"e":0.536,"v":4.4,"s":"Σ3"},{"e":0.54,"v":4.45,"s":"Σ3"},{"e":0.543,"v":4.35,"s":"Σ3"},{"e":0.546,"v":4.25,"s":"Σ3"},{"e":0.55,"v":4.1,"s":"Σ3"},{"e":0.553,"v":4.0,"s":"Σ3"},{"e":0.556,"v":3.9,"s":"Σ3"},{"e":0.558,"v":3.8,"s":"Σ3"},{"e":0.56,"v":3.7,"s":"Σ3"},{"e":0.562,"v":3.65,"s":"Σ3"},{"e":0.564,"v":3.55,"s":"Σ3"},{"e":0.566,"v":3.5,"s":"Σ3"},{"e":0.568,"v":3.4,"s":"Σ3"},{"e":0.57,"v":3.3,"s":"Σ3"},{"e":0.572,"v":3.25,"s":"Σ3"},{"e":0.574,"v":3.15,"s":"Σ3"},{"e":0.576,"v":3.05,"s":"Σ3"},{"e":0.578,"v":2.95,"s":"Σ3"},{"e":0.58,"v":2.8,"s":"Σ3"},{"e":0.582,"v":2.7,"s":"Σ3"},{"e":0.584,"v":2.6,"s":"Σ3"},{"e":0.586,"v":2.5,"s":"Σ3"},{"e":0.588,"v":2.35,"s":"Σ3"},{"e":0.59,"v":2.2,"s":"Σ3"},{"e":0.592,"v":2.1,"s":"Σ3"},{"e":0.594,"v":2.0,"s":"Σ3"},{"e":0.596,"v":1.9,"s":"Σ3"},{"e":0.598,"v":1.8,"s":"Σ3"},{"e":0.6,"v":1.7,"s":"Σ3"},{"e":0.602,"v":1.6,"s":"Σ3"},{"e":0.604,"v":1.5,"s":"Σ3"},{"e":0.606,"v":1.4,"s":"Σ3"},{"e":0.608,"v":1.3,"s":"Σ3"},{"e":0.61,"v":1.25,"s":"Σ3"},{"e":0.612,"v":1.15,"s":"Σ3"},{"e":0.614,"v":1.1,"s":"Σ3"},{"e":0.617,"v":1.05,"s":"Σ3"},{"e":0.21,"v":6.55,"s":"Σ3"},{"e":0.25,"v":6.28,"s":"Σ3"},{"e":0.3,"v":5.78,"s":"Σ3"},{"e":0.35,"v":5.48,"s":"Σ3"},{"e":0.4,"v":5.12,"s":"Σ3"},{"e":0.45,"v":4.8,"s":"Σ3"},{"e":0.5,"v":4.55,"s":"Σ3"},{"e":0.52,"v":4.62,"s":"Σ3"},{"e":0.54,"v":4.3,"s":"Σ3"},{"e":0.56,"v":3.85,"s":"Σ3"},{"e":0.57,"v":3.5,"s":"Σ3"},{"e":0.58,"v":3.0,"s":"Σ3"},{"e":0.585,"v":2.85,"s":"Σ3"},{"e":0.59,"v":2.45,"s":"Σ3"},{"e":0.595,"v":2.3,"s":"Σ3"},{"e":0.6,"v":1.9,"s":"Σ3"},{"e":0.605,"v":1.75,"s":"Σ3"},{"e":0.61,"v":1.5,"s":"Σ3"},{"e":0.615,"v":1.35,"s":"Σ3"},{"e":0.62,"v":1.2,"s":"Σ3"},{"e":0.577,"v":0.75,"s":"Σ3"},{"e":0.583,"v":0.75,"s":"Σ3"},{"e":0.598,"v":0.97,"s":"Σ3"},{"e":0.603,"v":0.94,"s":"Σ3"},{"e":0.605,"v":0.84,"s":"Σ3"},{"e":0.611,"v":0.77,"s":"Σ3"},{"e":0.617,"v":0.77,"s":"Σ3"},{"e":0.609,"v":0.6,"s":"Σ3"},{"e":0.611,"v":0.46,"s":"Σ3"},{"e":0.613,"v":0.24,"s":"Σ3"},{"e":0.619,"v":1.07,"s":"Σ3"},{"e":0.614,"v":1.03,"s":"Σ3"},
{"e":0.101,"v":7.02,"s":"Σ3"},{"e":0.112,"v":6.78,"s":"Σ3"},{"e":0.124,"v":6.92,"s":"Σ3"},{"e":0.135,"v":6.7,"s":"Σ3"},{"e":0.147,"v":6.82,"s":"Σ3"},{"e":0.158,"v":6.6,"s":"Σ3"},{"e":0.169,"v":6.75,"s":"Σ3"},{"e":0.181,"v":6.48,"s":"Σ3"},{"e":0.192,"v":6.62,"s":"Σ3"},{"e":0.204,"v":6.4,"s":"Σ3"},{"e":0.215,"v":6.55,"s":"Σ3"},{"e":0.227,"v":6.25,"s":"Σ3"},{"e":0.238,"v":6.38,"s":"Σ3"},{"e":0.249,"v":6.1,"s":"Σ3"},{"e":0.261,"v":6.25,"s":"Σ3"},{"e":0.272,"v":5.95,"s":"Σ3"},{"e":0.284,"v":6.1,"s":"Σ3"},{"e":0.295,"v":5.82,"s":"Σ3"},{"e":0.306,"v":5.98,"s":"Σ3"},{"e":0.318,"v":5.7,"s":"Σ3"},{"e":0.329,"v":5.82,"s":"Σ3"},{"e":0.341,"v":5.58,"s":"Σ3"},{"e":0.352,"v":5.7,"s":"Σ3"},{"e":0.363,"v":5.45,"s":"Σ3"},{"e":0.375,"v":5.55,"s":"Σ3"},{"e":0.386,"v":5.3,"s":"Σ3"},{"e":0.398,"v":5.4,"s":"Σ3"},{"e":0.409,"v":5.12,"s":"Σ3"},{"e":0.42,"v":5.25,"s":"Σ3"},{"e":0.432,"v":4.95,"s":"Σ3"},{"e":0.443,"v":5.08,"s":"Σ3"},{"e":0.455,"v":4.82,"s":"Σ3"},{"e":0.466,"v":4.95,"s":"Σ3"},{"e":0.477,"v":4.7,"s":"Σ3"},{"e":0.489,"v":4.8,"s":"Σ3"},{"e":0.5,"v":4.58,"s":"Σ3"},{"e":0.511,"v":4.68,"s":"Σ3"},{"e":0.523,"v":4.42,"s":"Σ3"},{"e":0.534,"v":4.55,"s":"Σ3"},{"e":0.545,"v":4.4,"s":"Σ3"},{"e":0.55,"v":4.3,"s":"Σ3"},{"e":0.555,"v":4.2,"s":"Σ3"},{"e":0.565,"v":3.7,"s":"Σ3"},{"e":0.575,"v":3.3,"s":"Σ3"},{"e":0.585,"v":2.75,"s":"Σ3"},{"e":0.593,"v":2.3,"s":"Σ3"},{"e":0.6,"v":1.55,"s":"Σ3"},{"e":0.607,"v":1.55,"s":"Σ3"},
{"e":0.615,"v":2.35,"s":"Σ9"},{"e":0.65,"v":2.0,"s":"Σ9"},{"e":0.655,"v":2.1,"s":"Σ9"},{"e":0.66,"v":1.9,"s":"Σ9"},{"e":0.663,"v":2.15,"s":"Σ9"},{"e":0.667,"v":2.2,"s":"Σ9"},{"e":0.67,"v":2.05,"s":"Σ9"},{"e":0.673,"v":1.95,"s":"Σ9"},{"e":0.676,"v":2.2,"s":"Σ9"},{"e":0.68,"v":2.1,"s":"Σ9"},{"e":0.683,"v":1.85,"s":"Σ9"},{"e":0.686,"v":2.0,"s":"Σ9"},{"e":0.69,"v":2.15,"s":"Σ9"},{"e":0.693,"v":1.9,"s":"Σ9"},{"e":0.696,"v":2.05,"s":"Σ9"},{"e":0.7,"v":1.95,"s":"Σ9"},{"e":0.7,"v":1.8,"s":"Σ9"},{"e":0.69,"v":1.75,"s":"Σ9"},{"e":0.68,"v":1.7,"s":"Σ9"},{"e":0.703,"v":2.1,"s":"Σ9"},{"e":0.706,"v":1.85,"s":"Σ9"},{"e":0.71,"v":2.0,"s":"Σ9"},{"e":0.713,"v":1.9,"s":"Σ9"},{"e":0.716,"v":1.75,"s":"Σ9"},{"e":0.72,"v":2.05,"s":"Σ9"},{"e":0.723,"v":1.85,"s":"Σ9"},{"e":0.726,"v":1.95,"s":"Σ9"},{"e":0.73,"v":1.7,"s":"Σ9"},{"e":0.733,"v":2.0,"s":"Σ9"},{"e":0.736,"v":1.8,"s":"Σ9"},{"e":0.74,"v":1.9,"s":"Σ9"},{"e":0.743,"v":1.65,"s":"Σ9"},{"e":0.746,"v":2.0,"s":"Σ9"},{"e":0.75,"v":1.85,"s":"Σ9"},{"e":0.753,"v":1.7,"s":"Σ9"},{"e":0.756,"v":1.95,"s":"Σ9"},{"e":0.76,"v":1.8,"s":"Σ9"},{"e":0.763,"v":1.6,"s":"Σ9"},{"e":0.766,"v":1.9,"s":"Σ9"},{"e":0.77,"v":1.75,"s":"Σ9"},{"e":0.773,"v":2.05,"s":"Σ9"},{"e":0.776,"v":1.65,"s":"Σ9"},{"e":0.78,"v":1.85,"s":"Σ9"},{"e":0.783,"v":1.55,"s":"Σ9"},{"e":0.786,"v":1.95,"s":"Σ9"},{"e":0.79,"v":1.7,"s":"Σ9"},{"e":0.793,"v":1.45,"s":"Σ9"},{"e":0.796,"v":1.8,"s":"Σ9"},{"e":0.8,"v":1.6,"s":"Σ9"},{"e":0.803,"v":1.9,"s":"Σ9"},{"e":0.806,"v":1.35,"s":"Σ9"},{"e":0.81,"v":1.75,"s":"Σ9"},{"e":0.813,"v":1.5,"s":"Σ9"},{"e":0.816,"v":1.2,"s":"Σ9"},{"e":0.82,"v":1.65,"s":"Σ9"},{"e":0.823,"v":1.85,"s":"Σ9"},{"e":0.826,"v":1.4,"s":"Σ9"},{"e":0.83,"v":1.6,"s":"Σ9"},{"e":0.833,"v":1.1,"s":"Σ9"},{"e":0.836,"v":1.75,"s":"Σ9"},{"e":0.84,"v":1.5,"s":"Σ9"},{"e":0.843,"v":1.3,"s":"Σ9"},{"e":0.846,"v":1.95,"s":"Σ9"},{"e":0.85,"v":1.6,"s":"Σ9"},{"e":0.853,"v":1.4,"s":"Σ9"},{"e":0.856,"v":1.7,"s":"Σ9"},{"e":0.86,"v":1.5,"s":"Σ9"},{"e":0.863,"v":1.35,"s":"Σ9"},{"e":0.866,"v":1.65,"s":"Σ9"},{"e":0.87,"v":1.55,"s":"Σ9"},{"e":0.873,"v":1.45,"s":"Σ9"},{"e":0.876,"v":1.7,"s":"Σ9"},{"e":0.88,"v":1.5,"s":"Σ9"},{"e":0.883,"v":1.6,"s":"Σ9"},{"e":0.886,"v":1.4,"s":"Σ9"},{"e":0.89,"v":1.55,"s":"Σ9"},{"e":0.893,"v":1.65,"s":"Σ9"},{"e":0.896,"v":1.45,"s":"Σ9"},{"e":0.9,"v":1.6,"s":"Σ9"},{"e":0.903,"v":1.5,"s":"Σ9"},{"e":0.906,"v":1.4,"s":"Σ9"},{"e":0.91,"v":1.55,"s":"Σ9"},{"e":0.913,"v":1.45,"s":"Σ9"},{"e":0.916,"v":1.5,"s":"Σ9"},{"e":0.918,"v":1.6,"s":"Σ9"},{"e":0.905,"v":1.7,"s":"Σ9"},{"e":0.895,"v":1.75,"s":"Σ9"},{"e":0.885,"v":1.8,"s":"Σ9"},{"e":0.875,"v":1.85,"s":"Σ9"},{"e":0.865,"v":1.9,"s":"Σ9"},{"e":0.855,"v":1.85,"s":"Σ9"},{"e":0.845,"v":1.7,"s":"Σ9"},{"e":0.835,"v":1.95,"s":"Σ9"},{"e":0.825,"v":2.0,"s":"Σ9"},{"e":0.815,"v":2.0,"s":"Σ9"},{"e":0.805,"v":2.1,"s":"Σ9"},{"e":0.795,"v":2.05,"s":"Σ9"},{"e":0.785,"v":2.0,"s":"Σ9"},{"e":0.775,"v":1.9,"s":"Σ9"},{"e":0.765,"v":2.05,"s":"Σ9"},{"e":0.755,"v":2.1,"s":"Σ9"},{"e":0.745,"v":1.8,"s":"Σ9"},{"e":0.735,"v":1.6,"s":"Σ9"},{"e":0.725,"v":1.65,"s":"Σ9"},{"e":0.715,"v":1.6,"s":"Σ9"},{"e":0.705,"v":1.7,"s":"Σ9"},{"e":0.695,"v":1.6,"s":"Σ9"},{"e":0.8,"v":1.3,"s":"Σ9"},{"e":0.81,"v":1.25,"s":"Σ9"},{"e":0.82,"v":1.1,"s":"Σ9"},{"e":0.83,"v":1.3,"s":"Σ9"},{"e":0.84,"v":1.2,"s":"Σ9"},{"e":0.85,"v":1.3,"s":"Σ9"},{"e":0.86,"v":1.25,"s":"Σ9"},{"e":0.87,"v":1.35,"s":"Σ9"},{"e":0.88,"v":1.3,"s":"Σ9"},{"e":0.89,"v":1.35,"s":"Σ9"},{"e":0.9,"v":1.4,"s":"Σ9"},{"e":0.79,"v":1.25,"s":"Σ9"},{"e":0.78,"v":1.4,"s":"Σ9"},{"e":0.77,"v":1.45,"s":"Σ9"},{"e":0.76,"v":1.5,"s":"Σ9"},{"e":0.75,"v":1.55,"s":"Σ9"},{"e":0.74,"v":1.5,"s":"Σ9"},{"e":0.73,"v":1.5,"s":"Σ9"},{"e":0.8,"v":1.7,"s":"Σ9"},{"e":0.81,"v":1.6,"s":"Σ9"},{"e":0.82,"v":1.45,"s":"Σ9"},{"e":0.83,"v":1.75,"s":"Σ9"},{"e":0.84,"v":1.85,"s":"Σ9"},{"e":0.85,"v":1.75,"s":"Σ9"},{"e":0.86,"v":1.6,"s":"Σ9"},{"e":0.87,"v":1.7,"s":"Σ9"},{"e":0.88,"v":1.65,"s":"Σ9"},{"e":0.89,"v":1.7,"s":"Σ9"},{"e":0.9,"v":1.5,"s":"Σ9"},{"e":0.91,"v":1.65,"s":"Σ9"},{"e":0.915,"v":1.4,"s":"Σ9"},{"e":0.92,"v":1.5,"s":"Σ9"},{"e":0.66,"v":1.75,"s":"Σ9"},{"e":0.675,"v":1.8,"s":"Σ9"},{"e":0.69,"v":1.85,"s":"Σ9"},{"e":0.71,"v":1.8,"s":"Σ9"},{"e":0.72,"v":1.75,"s":"Σ9"},{"e":0.74,"v":1.7,"s":"Σ9"},{"e":0.76,"v":1.7,"s":"Σ9"},{"e":0.78,"v":1.65,"s":"Σ9"},{"e":0.79,"v":1.55,"s":"Σ9"},{"e":0.8,"v":1.5,"s":"Σ9"},{"e":0.815,"v":1.85,"s":"Σ9"},{"e":0.822,"v":1.3,"s":"Σ9"},
{"e":0.309,"v":0.85,"s":"Σ11"},{"e":0.388,"v":0.97,"s":"Σ11"},{"e":0.402,"v":0.97,"s":"Σ11"},{"e":0.416,"v":0.97,"s":"Σ11"},{"e":0.427,"v":0.95,"s":"Σ11"},{"e":0.422,"v":0.73,"s":"Σ11"},{"e":0.445,"v":0.77,"s":"Σ11"},{"e":0.455,"v":0.84,"s":"Σ11"},{"e":0.457,"v":0.48,"s":"Σ11"},{"e":0.47,"v":0.77,"s":"Σ11"},{"e":0.481,"v":0.53,"s":"Σ11"},{"e":0.484,"v":0.77,"s":"Σ11"},{"e":0.489,"v":0.77,"s":"Σ11"},{"e":0.495,"v":0.77,"s":"Σ11"},{"e":0.489,"v":0.31,"s":"Σ11"},{"e":0.502,"v":0.44,"s":"Σ11"},{"e":0.508,"v":0.27,"s":"Σ11"},{"e":0.507,"v":0.77,"s":"Σ11"},{"e":0.515,"v":0.75,"s":"Σ11"},{"e":0.523,"v":0.77,"s":"Σ11"},{"e":0.532,"v":0.77,"s":"Σ11"},{"e":0.54,"v":0.77,"s":"Σ11"},{"e":0.547,"v":0.77,"s":"Σ11"},{"e":0.529,"v":0.29,"s":"Σ11"},{"e":0.534,"v":0.35,"s":"Σ11"},{"e":0.543,"v":0.33,"s":"Σ11"},{"e":0.553,"v":0.33,"s":"Σ11"},{"e":0.557,"v":0.46,"s":"Σ11"},{"e":0.563,"v":0.6,"s":"Σ11"},{"e":0.573,"v":0.38,"s":"Σ11"},{"e":0.583,"v":0.37,"s":"Σ11"},{"e":0.585,"v":0.2,"s":"Σ11"},{"e":0.592,"v":0.11,"s":"Σ11"},{"e":0.589,"v":0.46,"s":"Σ11"},{"e":0.592,"v":0.73,"s":"Σ11"},{"e":0.596,"v":0.51,"s":"Σ11"},{"e":0.602,"v":0.33,"s":"Σ11"},{"e":0.608,"v":0.27,"s":"Σ11"},{"e":0.613,"v":0.2,"s":"Σ11"},{"e":0.608,"v":0.73,"s":"Σ11"},{"e":0.617,"v":0.0,"s":"Σ11"},{"e":0.625,"v":0.09,"s":"Σ11"},{"e":0.622,"v":0.48,"s":"Σ11"},{"e":0.631,"v":0.02,"s":"Σ11"},{"e":0.636,"v":0.0,"s":"Σ11"},{"e":0.641,"v":0.09,"s":"Σ11"},{"e":0.645,"v":0.0,"s":"Σ11"},{"e":0.643,"v":-0.19,"s":"Σ11"},{"e":0.647,"v":-0.13,"s":"Σ11"},{"e":0.656,"v":-0.08,"s":"Σ11"},{"e":0.654,"v":0.14,"s":"Σ11"},{"e":0.648,"v":0.51,"s":"Σ11"},{"e":0.636,"v":0.42,"s":"Σ11"},{"e":0.658,"v":0.51,"s":"Σ11"},{"e":0.664,"v":0.57,"s":"Σ11"},{"e":0.667,"v":0.46,"s":"Σ11"},{"e":0.673,"v":0.11,"s":"Σ11"},{"e":0.676,"v":0.57,"s":"Σ11"},{"e":0.682,"v":0.51,"s":"Σ11"},{"e":0.686,"v":0.27,"s":"Σ11"},{"e":0.69,"v":0.48,"s":"Σ11"},{"e":0.693,"v":0.6,"s":"Σ11"},{"e":0.698,"v":0.57,"s":"Σ11"},{"e":0.703,"v":0.55,"s":"Σ11"},{"e":0.705,"v":0.46,"s":"Σ11"},{"e":0.707,"v":0.14,"s":"Σ11"},{"e":0.712,"v":0.14,"s":"Σ11"},{"e":0.722,"v":0.6,"s":"Σ11"},{"e":0.722,"v":0.11,"s":"Σ11"},{"e":0.729,"v":0.38,"s":"Σ11"},{"e":0.731,"v":0.11,"s":"Σ11"},{"e":0.731,"v":0.27,"s":"Σ11"},{"e":0.735,"v":0.2,"s":"Σ11"},{"e":0.738,"v":0.02,"s":"Σ11"},{"e":0.741,"v":0.46,"s":"Σ11"},{"e":0.746,"v":0.2,"s":"Σ11"},{"e":0.752,"v":0.46,"s":"Σ11"},{"e":0.758,"v":0.46,"s":"Σ11"},{"e":0.763,"v":0.48,"s":"Σ11"},{"e":0.767,"v":0.2,"s":"Σ11"},{"e":0.769,"v":0.55,"s":"Σ11"},{"e":0.775,"v":0.48,"s":"Σ11"},{"e":0.777,"v":0.2,"s":"Σ11"},{"e":0.778,"v":0.38,"s":"Σ11"},{"e":0.78,"v":0.33,"s":"Σ11"},{"e":0.786,"v":0.46,"s":"Σ11"},{"e":0.786,"v":0.14,"s":"Σ11"},{"e":0.791,"v":0.27,"s":"Σ11"},{"e":0.795,"v":0.48,"s":"Σ11"},{"e":0.797,"v":0.14,"s":"Σ11"},{"e":0.799,"v":0.46,"s":"Σ11"},{"e":0.803,"v":0.11,"s":"Σ11"},{"e":0.806,"v":0.09,"s":"Σ11"},{"e":0.812,"v":0.05,"s":"Σ11"},{"e":0.816,"v":0.09,"s":"Σ11"},{"e":0.817,"v":-0.04,"s":"Σ11"},{"e":0.808,"v":-0.19,"s":"Σ11"},{"e":0.823,"v":-0.17,"s":"Σ11"},{"e":0.825,"v":-0.26,"s":"Σ11"},{"e":0.82,"v":0.02,"s":"Σ11"},{"e":0.684,"v":0.52,"s":"Σ11"},{"e":0.695,"v":0.55,"s":"Σ11"},{"e":0.7,"v":0.5,"s":"Σ11"},{"e":0.71,"v":0.52,"s":"Σ11"},{"e":0.77,"v":0.5,"s":"Σ11"},{"e":0.78,"v":0.52,"s":"Σ11"},{"e":0.79,"v":0.45,"s":"Σ11"}
],
"lines": [
{"e":0.025,"v":7.574,"g":"r"},{"e":0.54,"v":4.253,"g":"r"},
{"e":0.62,"v":2.091,"g":"b"},{"e":0.92,"v":1.449,"g":"b"},
{"e":0.31,"v":0.887,"g":"g"},{"e":0.83,"v":0.154,"g":"g"}
],
"eqs": [
{"e":0.097,"v":5.62,"t":"y = -6.4479x + 7.7352"},
{"e":0.673,"v":2.45,"t":"y = -2.1399x + 3.4178"},
{"e":0.324,"v":1.3,"t":"y = -1.4096x + 1.3237"}
]
},
"vconcat": [
{
"width": 814, "height": 459,
"title": {"text": "(a)", "anchor": "start", "frame": "group", "dx": -49, "offset": 6, "font": "Liberation Serif", "fontSize": 24, "fontWeight": "bold", "color": "black"},
"data": {"name": "a"},
"mark": {"type": "point", "filled": true, "opacity": 1},
"encoding": {
"x": {"field": "e", "type": "quantitative", "title": "Calculated Boundary Energy (J/m²)", "scale": {"domain": [0, 0.938], "nice": false, "zero": false}, "axis": {"values": [0,0.1,0.2,0.3,0.4,0.5,0.6,0.7,0.8,0.9], "format": ".1~f", "tickColor": "black", "tickWidth": 3, "tickSize": 5, "labelPadding": 9, "titlePadding": 16}},
"y": {"field": "v", "type": "quantitative", "title": "Relative area for GB in Nanotwinned Cu, ln(MRD)", "scale": {"domain": [-0.5, 7.86], "nice": false, "zero": false}, "axis": {"values": [-0.5,0.5,1.5,2.5,3.5,4.5,5.5,6.5,7.5], "labelExpr": "datum.value < 0 ? '-' + format(-datum.value, '.1f') : format(datum.value, '.1f')", "tickColor": "#999999", "tickWidth": 1, "tickSize": 5, "labelPadding": 6, "titlePadding": 16}},
"color": {"field": "s", "type": "nominal", "scale": {"domain": ["Σ3","Σ9","Σ11"], "range": ["#FF2A00","#1F3FFF","#0A8A0A"]}, "legend": {"title": null, "orient": "none", "legendX": 724, "legendY": 13}},
"shape": {"field": "s", "type": "nominal", "scale": {"domain": ["Σ3","Σ9","Σ11"], "range": ["diamond","square","triangle-up"]}, "legend": {"title": null, "orient": "none", "legendX": 724, "legendY": 13}},
"size": {"field": "s", "type": "nominal", "scale": {"domain": ["Σ3","Σ9","Σ11"], "range": [30,38,75]}, "legend": {"title": null, "orient": "none", "legendX": 724, "legendY": 13}}
}
},
{
"width": 819, "height": 461,
"title": {"text": "(b)", "anchor": "start", "frame": "group", "dx": -46, "offset": 8, "font": "Liberation Serif", "fontSize": 24, "fontWeight": "bold", "color": "black"},
"encoding": {
"x": {"field": "e", "type": "quantitative", "title": "Calculated Boundary Energy (J/m²)", "scale": {"domain": [0, 0.923], "nice": false, "zero": false}, "axis": {"values": [0,0.1,0.2,0.3,0.4,0.5,0.6,0.7,0.8,0.9], "format": ".1~f", "tickColor": "black", "tickWidth": 3, "tickSize": 5, "labelPadding": 9, "titlePadding": 16}},
"y": {"field": "v", "type": "quantitative", "title": "Relative area for GB in Coarse-grained Cu, ln(MRD)", "scale": {"domain": [-0.5, 8.0], "nice": false, "zero": false}, "axis": {"values": [-0.5,0.5,1.5,2.5,3.5,4.5,5.5,6.5,7.5], "labelExpr": "datum.value < 0 ? '-' + format(-datum.value, '.1f') : format(datum.value, '.1f')", "tickColor": "#999999", "tickWidth": 1, "tickSize": 5, "labelPadding": 6, "titlePadding": 16}}
},
"layer": [
{
"data": {"name": "b"},
"mark": {"type": "point", "filled": true, "opacity": 1},
"encoding": {
"color": {"field": "s", "type": "nominal", "scale": {"domain": ["Σ3","Σ9","Σ11"], "range": ["#FF2A00","#1F3FFF","#0A8A0A"]}, "legend": {"title": null, "orient": "none", "legendX": 727, "legendY": 13}},
"shape": {"field": "s", "type": "nominal", "scale": {"domain": ["Σ3","Σ9","Σ11"], "range": ["diamond","square","triangle-up"]}, "legend": {"title": null, "orient": "none", "legendX": 727, "legendY": 13}},
"size": {"field": "s", "type": "nominal", "scale": {"domain": ["Σ3","Σ9","Σ11"], "range": [30,38,75]}, "legend": {"title": null, "orient": "none", "legendX": 727, "legendY": 13}}
}
},
{
"data": {"name": "lines"},
"mark": {"type": "line", "color": "black", "strokeWidth": 2},
"encoding": {"detail": {"field": "g", "type": "nominal"}}
},
{
"data": {"name": "eqs"},
"mark": {"type": "text", "align": "left", "baseline": "middle", "fontSize": 16.5, "font": "Lato", "color": "black"},
"encoding": {"text": {"field": "t", "type": "nominal"}}
}
]
}
],
"resolve": {"scale": {"color": "independent", "shape": "independent", "size": "independent"}, "legend": {"color": "independent", "shape": "independent", "size": "independent"}},
"config": {
"font": "Lato",
"view": {"stroke": "black", "strokeWidth": 4.5},
"axis": {"grid": false, "domain": false, "labelFont": "Lato", "labelFontSize": 18, "labelColor": "black", "titleFont": "Lato", "titleFontSize": 20, "titleFontWeight": "bold", "titleColor": "black"},
"legend": {"strokeColor": "#808080", "fillColor": "white", "padding": 10, "rowPadding": 20, "labelFontSize": 19, "labelFont": "Lato", "labelColor": "black", "labelOffset": 6, "symbolStrokeWidth": 0}
}
}
